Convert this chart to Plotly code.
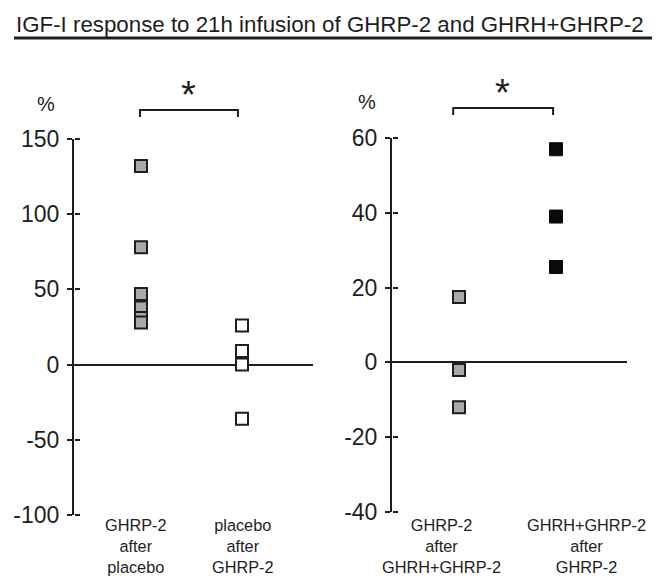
import plotly.graph_objects as go

# ---- data ----
left_categories = ["GHRP-2<br>after<br>placebo", "placebo<br>after<br>GHRP-2"]
left_ghrp2_after_placebo = [132, 78, 47, 38, 31, 28]
left_placebo_after_ghrp2 = [26, 9, 0, -36]
left_yticks = [150, 100, 50, 0, -50, -100]
left_yticklabels = ["150", "100", "50", "0", "-50", "-100"]

right_categories = ["GHRP-2<br>after<br>GHRH+GHRP-2", "GHRH+GHRP-2<br>after<br>GHRP-2"]
right_ghrp2_after_combo = [17.5, -2, -12]
right_combo_after_ghrp2 = [57, 39, 25.5]
right_yticks = [60, 40, 20, 0, -20, -40]
right_yticklabels = ["60", "40", "20", "0", "-20", "-40"]

title_text = "IGF-I response to 21h infusion of GHRP-2 and GHRH+GHRP-2"

W, H = 661, 580
OFF = 8  # page offset of the figure div
FONT = "Liberation Sans"
INK = "#1e1e1e"

def px_x(p):
    return (p - OFF) / W

def px_y(p):
    return 1 - (p - OFF) / H

fig = go.Figure()

gray_marker = dict(symbol="square", size=12, color="#a9a9a9", line=dict(color=INK, width=2))
open_marker = dict(symbol="square", size=12, color="white", line=dict(color=INK, width=2))
black_marker = dict(symbol="square", size=13, color="#0a0a0a", line=dict(color="#0a0a0a", width=1))

fig.add_trace(go.Scatter(x=[0] * len(left_ghrp2_after_placebo), y=left_ghrp2_after_placebo,
                         mode="markers", marker=gray_marker, xaxis="x", yaxis="y", showlegend=False))
fig.add_trace(go.Scatter(x=[1] * len(left_placebo_after_ghrp2), y=left_placebo_after_ghrp2,
                         mode="markers", marker=open_marker, xaxis="x", yaxis="y", showlegend=False))
fig.add_trace(go.Scatter(x=[0] * len(right_ghrp2_after_combo), y=right_ghrp2_after_combo,
                         mode="markers", marker=gray_marker, xaxis="x2", yaxis="y2", showlegend=False))
fig.add_trace(go.Scatter(x=[1] * len(right_combo_after_ghrp2), y=right_combo_after_ghrp2,
                         mode="markers", marker=black_marker, xaxis="x2", yaxis="y2", showlegend=False))

tickfont = dict(family=FONT, size=23, color=INK)

common_y = dict(showgrid=False, zeroline=True, zerolinecolor=INK, zerolinewidth=2,
                showline=True, linecolor=INK, linewidth=2, ticks="outside", ticklen=5,
                tickwidth=2, tickcolor=INK, tickfont=tickfont, ticklabelstandoff=3,
                automargin=False)
common_x = dict(showgrid=False, zeroline=False, showline=False, showticklabels=False, ticks="",
                automargin=False)
overlay_y = dict(showticklabels=False, ticks="outside", ticklen=5, tickwidth=2, tickcolor=INK,
                 showgrid=False, zeroline=False, showline=False, automargin=False,
                 side="right", anchor="free")

fig.update_layout(
    width=W, height=H, margin=dict(l=0, r=0, t=0, b=0, autoexpand=False),
    paper_bgcolor="white", plot_bgcolor="white",
    xaxis=dict(domain=[px_x(74), px_x(313)], range=[-67 / 101, 1 + 71 / 101], anchor="y", **common_x),
    yaxis=dict(domain=[px_y(515), px_y(139)], range=[-100, 150], anchor="x",
               tickvals=left_yticks, ticktext=left_yticklabels, **common_y),
    yaxis3=dict(overlaying="y", position=px_x(74), range=[-100, 150], tickvals=left_yticks, **overlay_y),
    xaxis2=dict(domain=[px_x(392), px_x(627)], range=[-67 / 97, 1 + 71 / 97], anchor="y2", **common_x),
    yaxis2=dict(domain=[px_y(512), px_y(138)], range=[-40, 60], anchor="x2",
                tickvals=right_yticks, ticktext=right_yticklabels, **common_y),
    yaxis4=dict(overlaying="y2", position=px_x(392), range=[-40, 60], tickvals=right_yticks, **overlay_y),
)

# invisible traces so overlay axes render
fig.add_trace(go.Scatter(x=[0], y=[0], mode="markers", marker=dict(opacity=0), xaxis="x", yaxis="y3",
                         showlegend=False, hoverinfo="skip"))
fig.add_trace(go.Scatter(x=[0], y=[0], mode="markers", marker=dict(opacity=0), xaxis="x2", yaxis="y4",
                         showlegend=False, hoverinfo="skip"))

annotations = []
annotations.append(dict(text=title_text, x=px_x(330), y=px_y(24), xref="paper", yref="paper",
                        showarrow=False, xanchor="center", yanchor="middle",
                        font=dict(family=FONT, size=22.3, color=INK)))
annotations.append(dict(text="%", x=px_x(46), y=px_y(104), xref="paper", yref="paper", showarrow=False,
                        xanchor="center", yanchor="middle",
                        font=dict(family=FONT, size=20, color=INK)))
annotations.append(dict(text="%", x=px_x(367), y=px_y(102), xref="paper", yref="paper", showarrow=False,
                        xanchor="center", yanchor="middle",
                        font=dict(family=FONT, size=20, color=INK)))
annotations.append(dict(text="*", x=0.47, y=px_y(95), xref="x", yref="paper", showarrow=False,
                        xanchor="center", yanchor="middle",
                        font=dict(family=FONT, size=38, color=INK)))
annotations.append(dict(text="*", x=0.45, y=px_y(93), xref="x2", yref="paper", showarrow=False,
                        xanchor="center", yanchor="middle",
                        font=dict(family=FONT, size=38, color=INK)))
label_centers = [136, 243, 441, 586]
all_labels = left_categories + right_categories
for cx, t in zip(label_centers, all_labels):
    annotations.append(dict(text=t, x=px_x(cx), y=px_y(514), xref="paper", yref="paper", showarrow=False,
                            xanchor="center", yanchor="top", align="center",
                            font=dict(family=FONT, size=16.3, color=INK)))
fig.update_layout(annotations=annotations)

shapes = []
shapes.append(dict(type="line", xref="paper", yref="paper", x0=px_x(14), x1=px_x(652),
                   y0=px_y(38), y1=px_y(38), line=dict(color=INK, width=3)))
shapes.append(dict(type="path", xref="x", yref="paper",
                   path=f"M -0.01 {px_y(117)} L -0.01 {px_y(110)} L 0.96 {px_y(110)} L 0.96 {px_y(117)}",
                   line=dict(color=INK, width=2)))
shapes.append(dict(type="path", xref="x2", yref="paper",
                   path=f"M -0.06 {px_y(115)} L -0.06 {px_y(108)} L 0.97 {px_y(108)} L 0.97 {px_y(115)}",
                   line=dict(color=INK, width=2)))
fig.update_layout(shapes=shapes)

fig.write_html("out.html")
